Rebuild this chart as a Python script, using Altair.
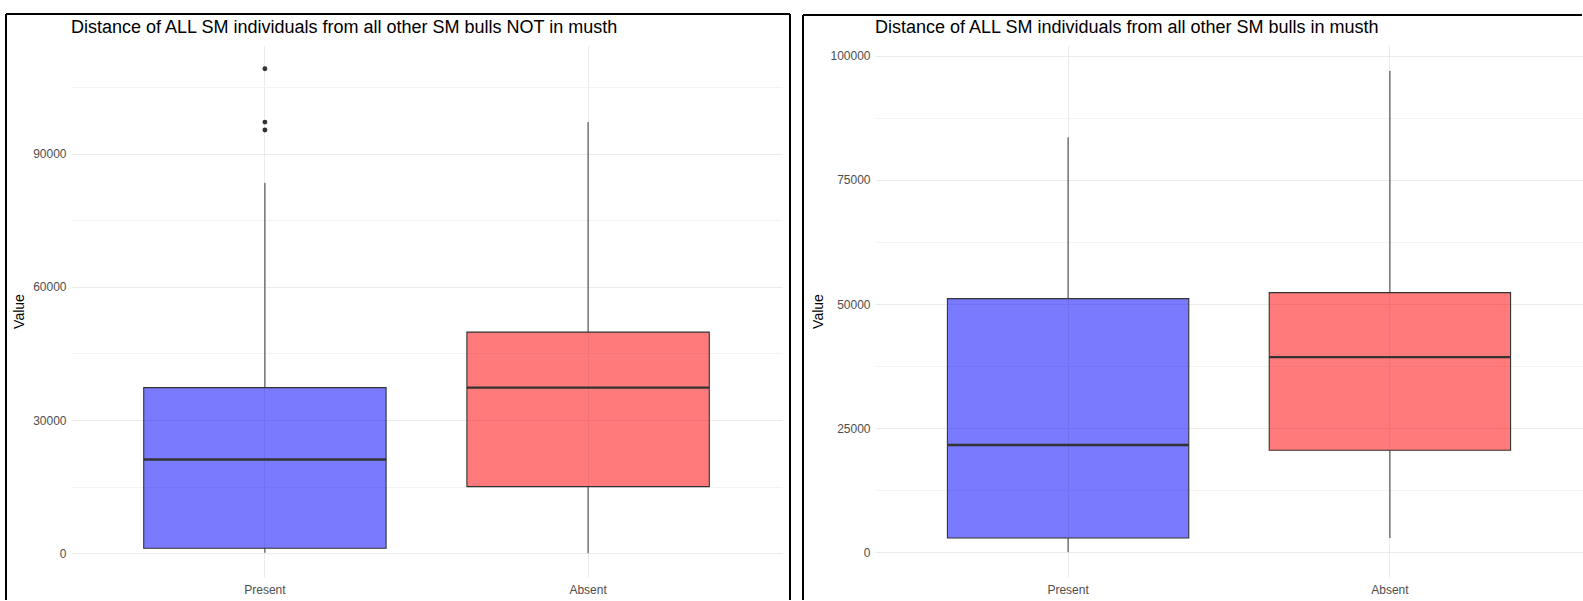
import altair as alt
import pandas as pd

# ---- data -------------------------------------------------------------
categories = ["Present", "Absent"]
fill_colors = ["#0000FF", "#FF0000"]

# Distance from SM bulls NOT in musth
nm_title = "Distance of ALL SM individuals from all other SM bulls NOT in musth"
nm_low = [100, 0]
nm_q1 = [1100, 15000]
nm_median = [21100, 37300]
nm_q3 = [37300, 49800]
nm_high = [83400, 97100]
nm_outlier_group = ["Present", "Present", "Present"]
nm_outlier_value = [109100, 97100, 95300]
nm_major_ticks = [0, 30000, 60000, 90000]
nm_minor_ticks = [15000, 45000, 75000, 105000]

# Distance from SM bulls in musth
m_title = "Distance of ALL SM individuals from all other SM bulls in musth"
m_low = [0, 2850]
m_q1 = [2850, 20550]
m_median = [21600, 39300]
m_q3 = [51100, 52300]
m_high = [83600, 97000]
m_outlier_group = []
m_outlier_value = []
m_major_ticks = [0, 25000, 50000, 75000, 100000]
m_minor_ticks = [12500, 37500, 62500, 87500]

PANEL_H = 532
DARK = "#333333"
FONT = "Liberation Sans"


def one_panel(title, low, q1, med, q3, high, out_g, out_v, majors, minors,
              y_domain, width, title_pad, border_left, border_top, border_right):
    stats = pd.DataFrame({"group": categories, "low": low, "q1": q1,
                          "med": med, "q3": q3, "high": high})
    outliers = pd.DataFrame({"group": out_g, "value": out_v})
    major_step = majors[1] - majors[0]

    x_scale = alt.Scale(domain=categories, paddingInner=0.25, paddingOuter=0.225)
    y_scale = alt.Scale(domain=y_domain, nice=False, zero=False)
    x_axis = alt.Axis(title=None, grid=True, gridColor="#ebebeb", gridWidth=1,
                      ticks=False, domain=False, labelAngle=0, labelColor="#4d4d4d",
                      labelFontSize=12, labelPadding=7, bandPosition=0.5, labelFont=FONT)
    y_axis = alt.Axis(values=sorted(majors + minors),
                      labelExpr=f"datum.value % {major_step} === 0 ? format(datum.value, 'd') : ''",
                      grid=True,
                      gridColor=alt.condition(f"datum.value % {major_step} === 0",
                                              alt.value("#ebebeb"), alt.value("#f3f3f3")),
                      gridWidth=1, ticks=False, domain=False, labelColor="#4d4d4d",
                      labelFontSize=12, labelPadding=5, labelFont=FONT,
                      title="Value", titleFontSize=14, titleFontWeight="normal",
                      titleColor="black", titlePadding=title_pad, titleFont=FONT)

    X = alt.X("group:N", scale=x_scale, axis=x_axis, sort=categories)
    fill = alt.Fill("group:N", scale=alt.Scale(domain=categories, range=fill_colors),
                    legend=None)

    base = alt.Chart(stats)
    upper = base.mark_rule(color=DARK, strokeWidth=1).encode(
        x=X, y=alt.Y("q3:Q", scale=y_scale, axis=y_axis), y2="high:Q")
    lower = base.mark_rule(color=DARK, strokeWidth=1).encode(
        x=X, y=alt.Y("low:Q", scale=y_scale, axis=y_axis), y2="q1:Q")
    box = base.mark_bar(fillOpacity=0.52, stroke=DARK, strokeWidth=1.1).encode(
        x=X, y=alt.Y("q1:Q", scale=y_scale, axis=y_axis), y2="q3:Q", fill=fill)
    band_w = width / 2.2 * 0.75
    median = base.mark_tick(color=DARK, size=band_w, thickness=2.4, opacity=1).encode(
        x=X, y=alt.Y("med:Q", scale=y_scale, axis=y_axis))

    layers = [upper, lower, box, median]
    if len(outliers):
        layers.append(alt.Chart(outliers).mark_circle(size=24, color=DARK, opacity=1).encode(
            x=X, y=alt.Y("value:Q", scale=y_scale, axis=y_axis)))

    blank = alt.Data(values=[{}])
    heading = alt.Chart(blank).mark_text(
        align="left", baseline="alphabetic", fontSize=18, font=FONT, color="black"
    ).encode(x=alt.value(0), y=alt.value(-12), text=alt.value(title))
    layers.append(heading)

    # frame around the panel
    frame = dict(color="black", strokeWidth=2, strokeCap="butt")
    layers.append(alt.Chart(blank).mark_rule(**frame).encode(
        x=alt.value(border_left), x2=alt.value(border_right if border_right else width - 1),
        y=alt.value(border_top)))
    layers.append(alt.Chart(blank).mark_rule(**frame).encode(
        x=alt.value(border_left), y=alt.value(border_top), y2=alt.value(PANEL_H + 23)))
    if border_right:
        layers.append(alt.Chart(blank).mark_rule(**frame).encode(
            x=alt.value(border_right), y=alt.value(border_top), y2=alt.value(PANEL_H + 23)))

    return alt.layer(*layers).properties(width=width, height=PANEL_H)


left = one_panel(nm_title, nm_low, nm_q1, nm_median, nm_q3, nm_high,
                 nm_outlier_group, nm_outlier_value, nm_major_ticks, nm_minor_ticks,
                 [-5360, 114460], 711, 6, -65, -31, 719)
right = one_panel(m_title, m_low, m_q1, m_median, m_q3, m_high,
                  m_outlier_group, m_outlier_value, m_major_ticks, m_minor_ticks,
                  [-5000, 102200], 708, 4, -72, -30, None)

chart = alt.hconcat(left, right, spacing=93, bounds="flush").properties(
    padding={"left": 5, "top": 13, "right": 0, "bottom": 0},
    background="white",
).configure(font=FONT).configure_view(stroke=None)

chart.save("out.html", embed_options={"renderer": "svg", "actions": False})
